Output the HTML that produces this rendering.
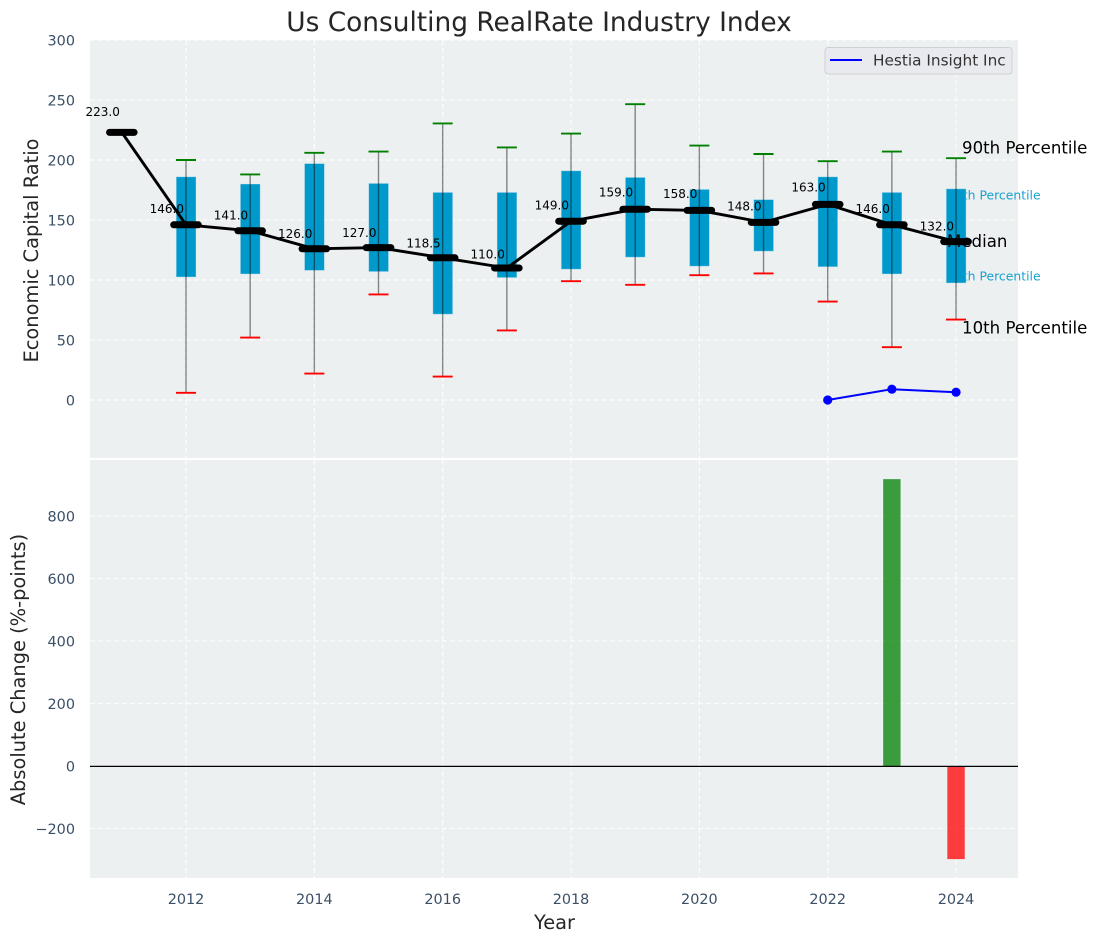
<!DOCTYPE html>
<html lang="en">
<head>
<meta charset="utf-8">
<title>Us Consulting RealRate Industry Index</title>
<style>
html,body{margin:0;padding:0;background:#fff;}
svg{display:block;font-family:"DejaVu Sans","Liberation Sans",sans-serif;}
</style>
</head>
<body>
<svg id="chart" width="1097" height="942" viewBox="0 0 1097 942" xmlns="http://www.w3.org/2000/svg">
  <rect x="0" y="0" width="1097" height="942" fill="#ffffff"/>
  <text x="539" y="31" text-anchor="middle" font-size="26.4" fill="#262626">Us Consulting RealRate Industry Index</text>
  <rect x="90" y="40" width="928" height="418" fill="#ecf0f1"/>
  <rect x="90" y="460" width="928" height="418" fill="#ecf0f1"/>
  <g id="grid"></g>
  <g id="ticks"></g>
  <text transform="translate(38,250.5) rotate(-90)" text-anchor="middle" font-size="19.4" fill="#262626">Economic Capital Ratio</text>
  <text transform="translate(25,669.5) rotate(-90)" text-anchor="middle" font-size="19.4" fill="#262626">Absolute Change (%-points)</text>
  <text x="554.5" y="929" text-anchor="middle" font-size="19.4" fill="#262626">Year</text>
  <g id="percentile-back"></g>
  <g id="boxes"></g>
  <g id="whiskers"></g>
  <g id="medians"></g>
  <g id="company"></g>
  <g id="values"></g>
  <g id="percentile-front"></g>
  <g id="changes"></g>
  <g>
    <rect x="825" y="47.5" width="187" height="26.5" rx="3" fill="#e8eaef" stroke="#cfd1d4" stroke-width="1"/>
    <line x1="830" y1="60" x2="862" y2="60" stroke="#0000ff" stroke-width="2"/>
    <text x="873" y="65.5" font-size="15.3" fill="#333333">Hestia Insight Inc</text>
  </g>
</svg>
<script>
const years = [2012, 2013, 2014, 2015, 2016, 2017, 2018, 2019, 2020, 2021, 2022, 2023, 2024];
const p10 = [6, 52, 22, 88, 19.5, 58, 99, 96, 104, 105.5, 82, 44, 67];
const p25 = [102.5, 105, 108, 107, 71.5, 102, 109, 119, 111.5, 124, 111, 105, 97.5];
const p75 = [186, 180, 197, 180.5, 173, 173, 191, 185.5, 175.5, 167, 186, 173, 176];
const p90 = [200, 188, 206, 207, 230.5, 210.5, 222, 246.5, 212, 205, 199, 207, 201.5];
const medianYears = [2011, 2012, 2013, 2014, 2015, 2016, 2017, 2018, 2019, 2020, 2021, 2022, 2023, 2024];
const medians = [223, 146, 141, 126, 127, 118.5, 110, 149, 159, 158, 148, 163, 146, 132];
const companyYears = [2022, 2023, 2024];
const companyValues = [0, 9, 6.5];
const changeYears = [2023, 2024];
const changeValues = [918, -298];
const xTicks = [2012, 2014, 2016, 2018, 2020, 2022, 2024];
const topYTicks = [0, 50, 100, 150, 200, 250, 300];
const bottomYTicks = [-200, 0, 200, 400, 600, 800];

const NS = 'http://www.w3.org/2000/svg';
const xScale = v => 186 + (v - 2012) * 64.17;
const yTop = v => 400 - v * 1.2;
const yBottom = v => 766 - v * 0.3125;

function make(parentId, tag, attrs, text) {
  const el = document.createElementNS(NS, tag);
  for (const k in attrs) el.setAttribute(k, attrs[k]);
  if (text !== undefined) el.textContent = text;
  document.getElementById(parentId).appendChild(el);
  return el;
}
const TICK = '#3b4f66';
let el;

xTicks.forEach(t => {
  el = make('grid', 'line', {x1: xScale(t), x2: xScale(t), y1: 40, y2: 458, stroke: '#fff', 'stroke-width': 1.2, 'stroke-dasharray': '5 3', opacity: .85});
  
  
  el = make('grid', 'line', {x1: xScale(t), x2: xScale(t), y1: 460, y2: 878, stroke: '#fff', 'stroke-width': 1.2, 'stroke-dasharray': '5 3', opacity: .85});
  
  
  el = make('ticks', 'text', {x: xScale(t), y: 904, 'text-anchor': 'middle', 'font-size': 14.4, fill: TICK}, String(t));
  
  
});
topYTicks.forEach(t => {
  el = make('grid', 'line', {x1: 90, x2: 1018, y1: yTop(t), y2: yTop(t), stroke: '#fff', 'stroke-width': 1.2, 'stroke-dasharray': '5 3', opacity: .85});
  
  
  el = make('ticks', 'text', {x: 75, y: yTop(t) + 5.3, 'text-anchor': 'end', 'font-size': 14.4, fill: TICK}, String(t));
  
  
});
bottomYTicks.forEach(t => {
  el = make('grid', 'line', {x1: 90, x2: 1018, y1: yBottom(t), y2: yBottom(t), stroke: '#fff', 'stroke-width': 1.2, 'stroke-dasharray': '5 3', opacity: .85});
  
  
  el = make('ticks', 'text', {x: 75, y: yBottom(t) + 5.3, 'text-anchor': 'end', 'font-size': 14.4, fill: TICK}, String(t).replace('-', '\u2212'));
  
  
});

const lastI = years.length - 1;
const lastMedian = medians[medians.length - 1];
const lastX = xScale(years[lastI]);
el = make('percentile-back', 'text', {x: lastX - 9, y: yTop(p75[lastI]) + 10.5, 'font-size': 12.4, fill: '#0099cc', opacity: .9}, '75th Percentile');


el = make('percentile-back', 'text', {x: lastX - 9, y: yTop(p25[lastI]) - 2.5, 'font-size': 12.4, fill: '#0099cc', opacity: .9}, '25th Percentile');



years.forEach((yr, i) => {
  const x = xScale(yr);
  el = make('boxes', 'rect', {x: x - 9.8, y: yTop(p75[i]), width: 19.8, height: yTop(p25[i]) - yTop(p75[i]), fill: '#0099cc', stroke: '#cfe6ef', 'stroke-opacity': .5, 'stroke-width': .8});
  
  
  el = make('whiskers', 'line', {x1: x, x2: x, y1: yTop(p90[i]), y2: yTop(p10[i]), stroke: '#000', 'stroke-opacity': .45, 'stroke-width': 1.4});
  
  
  el = make('whiskers', 'line', {x1: x - 10, x2: x + 10, y1: yTop(p90[i]), y2: yTop(p90[i]), stroke: '#008000', 'stroke-width': 1.9});
  
  
  el = make('whiskers', 'line', {x1: x - 10, x2: x + 10, y1: yTop(p10[i]), y2: yTop(p10[i]), stroke: '#ff0000', 'stroke-width': 1.9});
  
  
});

el = make('medians', 'polyline', {points: medianYears.map((yr, i) => xScale(yr) + ',' + yTop(medians[i])).join(' '), fill: 'none', stroke: '#000', 'stroke-width': 2.9, 'stroke-linejoin': 'round'});


medianYears.forEach((yr, i) => {
  const x = xScale(yr), y = yTop(medians[i]);
  el = make('medians', 'line', {x1: x - 12.3, x2: x + 12.3, y1: y, y2: y, stroke: '#000', 'stroke-width': 7, 'stroke-linecap': 'round'});
  
  
  el = make('values', 'text', {x: x - 2, y: yTop(medians[i] * 1.05) - 3, 'text-anchor': 'end', 'font-size': 12, fill: '#000'}, medians[i].toFixed(1));
  
  
});

el = make('company', 'polyline', {points: companyYears.map((yr, i) => xScale(yr) + ',' + yTop(companyValues[i])).join(' '), fill: 'none', stroke: '#0000ff', 'stroke-width': 2});


companyYears.forEach((yr, i) => {
  el = make('company', 'circle', {cx: xScale(yr), cy: yTop(companyValues[i]), r: 4.6, fill: '#0000ff'});
  
  
});

el = make('percentile-front', 'text', {x: lastX + 6, y: yTop(p90[lastI]) - 4.5, 'font-size': 16.6, fill: '#000'}, '90th Percentile');


el = make('percentile-front', 'text', {x: lastX - 9, y: yTop(lastMedian) + 5.5, 'font-size': 16.6, fill: '#000'}, 'Median');


el = make('percentile-front', 'text', {x: lastX + 6, y: yTop(p10[lastI]) + 14, 'font-size': 16.6, fill: '#000'}, '10th Percentile');



changeYears.forEach((yr, i) => {
  const v = changeValues[i];
  const top = Math.min(yBottom(v), yBottom(0));
  el = make('changes', 'rect', {x: xScale(yr) - 8.7, y: top, width: 17.4, height: Math.abs(yBottom(v) - yBottom(0)), fill: v >= 0 ? '#008000' : '#ff0000', 'fill-opacity': .75});
  
  
});
el = make('changes', 'line', {x1: 90, x2: 1018, y1: yBottom(0) + 0.4, y2: yBottom(0) + 0.4, stroke: '#000', 'stroke-width': 1.3});


</script>
</body>
</html>
